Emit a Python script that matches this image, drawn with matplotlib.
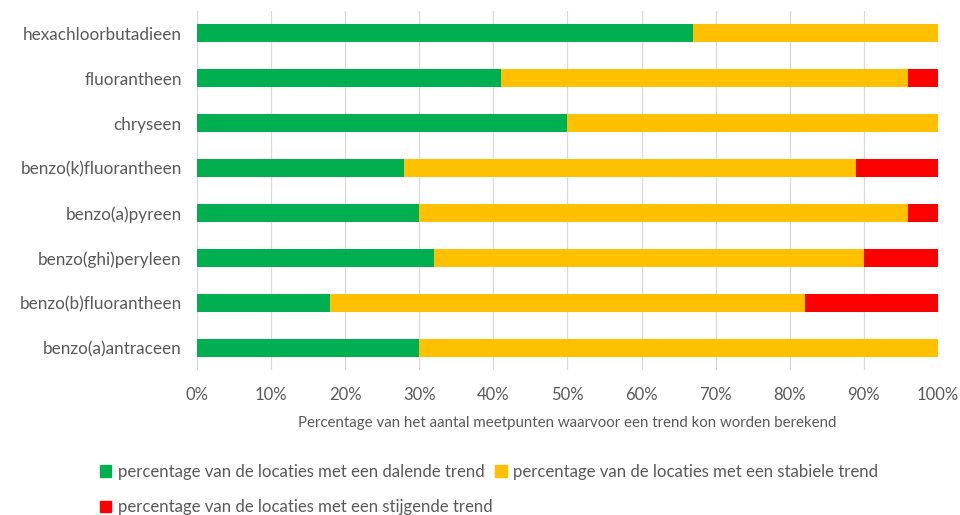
import matplotlib.pyplot as plt
from matplotlib.patches import Patch
from matplotlib.ticker import PercentFormatter

categories = ["hexachloorbutadieen", "fluorantheen", "chryseen", "benzo(k)fluorantheen",
              "benzo(a)pyreen", "benzo(ghi)peryleen", "benzo(b)fluorantheen", "benzo(a)antraceen"]
dalend = [67, 41, 50, 28, 30, 32, 18, 30]
stabiel = [33, 55, 50, 61, 66, 58, 64, 70]
stijgend = [0, 4, 0, 11, 4, 10, 18, 0]

series_labels = ["percentage van de locaties met een dalende trend",
                 "percentage van de locaties met een stabiele trend",
                 "percentage van de locaties met een stijgende trend"]
colors = ["#00B050", "#FFC000", "#FF0000"]
text_color = "#595959"

plt.rcParams["font.family"] = ["Lato", "DejaVu Sans"]

fig = plt.figure(figsize=(9.6, 5.15), dpi=100)
ax = fig.add_axes([0.2052, 0.2806, 0.7718, 0.699])

y = list(range(len(categories)))
left = [0] * len(categories)
for vals, col, lab in zip([dalend, stabiel, stijgend], colors, series_labels):
    ax.barh(y, vals, left=left, height=0.4, color=col, label=lab, zorder=3)
    left = [a + b for a, b in zip(left, vals)]

ax.set_ylim(len(categories) - 0.5, -0.5)
ax.set_xlim(0, 100)
ax.set_yticks(y, labels=categories)
ax.set_xticks(range(0, 101, 10))
ax.xaxis.set_major_formatter(PercentFormatter(decimals=0))
ax.grid(axis="x", color="#D9D9D9", linewidth=0.9, zorder=0)
for s in ax.spines.values():
    s.set_visible(False)
ax.tick_params(axis="y", length=0, pad=11, labelsize=12.3, labelcolor=text_color)
ax.tick_params(axis="x", length=0, pad=12, labelsize=12, labelcolor=text_color)
ax.set_xlabel("Percentage van het aantal meetpunten waarvoor een trend kon worden berekend",
              fontsize=10.8, color=text_color, labelpad=9)

handles = [Patch(color=c) for c in colors]
fig.legend(handles[:2], series_labels[:2], loc="center left", bbox_to_anchor=(0.088, 0.083),
           ncol=2, frameon=False, fontsize=12.1, labelcolor=text_color,
           handlelength=0.7, handleheight=0.7, handletextpad=0.4, columnspacing=0.6)
fig.legend(handles[2:], series_labels[2:], loc="center left", bbox_to_anchor=(0.088, 0.015),
           frameon=False, fontsize=12.1, labelcolor=text_color,
           handlelength=0.7, handleheight=0.7, handletextpad=0.4)

fig.savefig("out.png", dpi=100)
